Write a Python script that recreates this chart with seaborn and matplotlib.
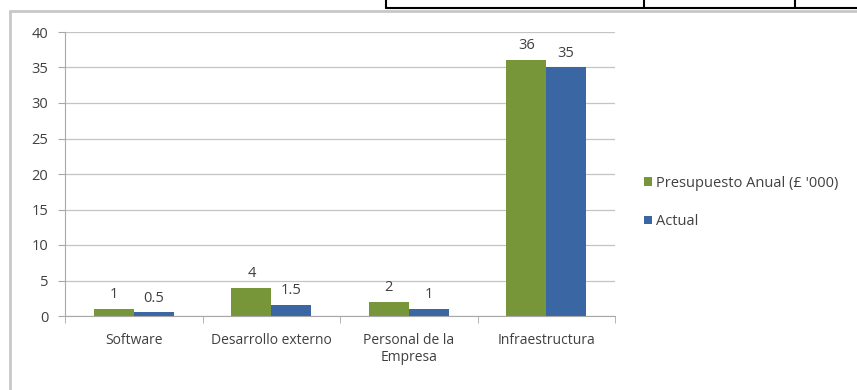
import pandas as pd
import matplotlib
matplotlib.use("Agg")
import matplotlib.pyplot as plt
from matplotlib.lines import Line2D
from matplotlib.patches import Rectangle
import seaborn as sns

categorias = ["Software", "Desarrollo externo", "Personal de la\nEmpresa", "Infraestructura"]
presupuesto = [1, 4, 2, 36]
actual = [0.5, 1.5, 1, 35]
etiquetas_pres = ["1", "4", "2", "36"]
etiquetas_act = ["0.5", "1.5", "1", "35"]
series = ["Presupuesto Anual (£ '000)", "Actual"]
colores = ["#77963A", "#3A66A4"]

df = pd.DataFrame({
    "Categoria": categorias * 2,
    "Valor": presupuesto + actual,
    "Serie": [series[0]] * 4 + [series[1]] * 4,
})

sns.set_style("white")
plt.rcParams["font.family"] = ["Open Sans", "DejaVu Sans"]

fig = plt.figure(figsize=(8.57, 3.9), dpi=100)
ax = fig.add_axes([65 / 857, 1 - 316 / 390, (615 - 65) / 857, (316 - 32) / 390])

sns.barplot(data=df, x="Categoria", y="Valor", hue="Serie", palette=colores,
            width=0.58, gap=0, saturation=1, linewidth=0, ax=ax, legend=True)

for cont, labs in zip(ax.containers, [etiquetas_pres, etiquetas_act]):
    ax.bar_label(cont, labels=labs, padding=5, fontsize=10.5, color="#404040")

ax.set_ylim(0, 40)
ax.set_yticks(range(0, 41, 5))
ax.set_xlim(-0.5, 3.5)
ax.set_xlabel("")
ax.set_ylabel("")
ax.yaxis.grid(True, color="#c4c4c4", linewidth=0.9)
ax.set_axisbelow(True)
for s in ["top", "right"]:
    ax.spines[s].set_visible(False)
ax.spines["left"].set_color("#a8a8a8")
ax.spines["bottom"].set_color("#a8a8a8")
ax.tick_params(axis="y", left=True, length=5, color="#a8a8a8", labelsize=10.5, labelcolor="#404040", pad=7)
ax.set_xticks([0, 1, 2, 3])
ax.set_xticks([-0.5, 0.5, 1.5, 2.5, 3.5], minor=True)
ax.tick_params(axis="x", which="major", length=0, labelsize=10, labelcolor="#404040", pad=12)
ax.tick_params(axis="x", which="minor", bottom=True, length=5, color="#a8a8a8")

ax.legend(loc="center left", bbox_to_anchor=(1.028, 0.4), frameon=False, fontsize=10.5,
          handlelength=0.55, handleheight=0.55, handletextpad=0.3, labelspacing=1.6,
          labelcolor="#404040")

# marco del gráfico y fragmento de tabla superior
fig.add_artist(Rectangle((10 / 857, -0.01), 1.0, 1 - 11 / 390 + 0.01, transform=fig.transFigure,
                         fill=False, edgecolor="#c8c8c8", linewidth=2))
fig.add_artist(Line2D([386 / 857, 1], [1 - 8 / 390] * 2, transform=fig.transFigure, color="black", linewidth=1.5))
for xv in [386, 644, 795]:
    fig.add_artist(Line2D([xv / 857] * 2, [1, 1 - 8 / 390], transform=fig.transFigure, color="black", linewidth=1.5))

fig.savefig("out.png", dpi=100)
